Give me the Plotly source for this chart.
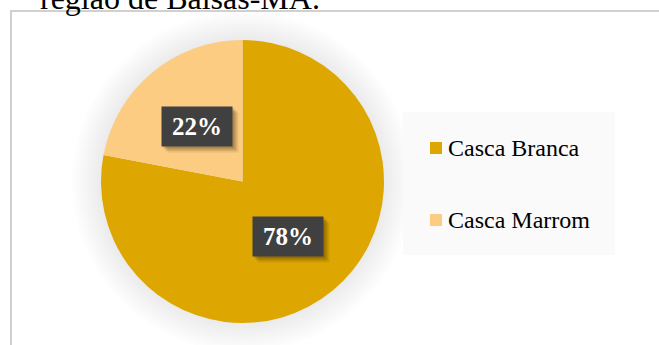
import math
import plotly.graph_objects as go

# Shell colour of the eggs sampled
categories = ["Casca Branca", "Casca Marrom"]
shares = [78, 22]
colors = ["#DDA600", "#FCCC82"]
title_text = "região de Balsas-MA."

W, H = 659, 345
cx, cy, R = 242.5, 181.5, 141.5  # pie centre and radius in pixels


def px(x):
    return x / W


def py(y):
    return 1 - y / H


fig = go.Figure()
fig.add_trace(go.Pie(
    labels=categories,
    values=shares,
    sort=False,
    direction="clockwise",
    rotation=0,
    marker=dict(colors=colors, line=dict(width=0)),
    textinfo="none",
    hoverinfo="label+percent",
    showlegend=False,
    domain=dict(x=[px(cx - R), px(cx + R)], y=[py(cy + R), py(cy - R)]),
))

shapes = []
# outer frame of the chart area
shapes.append(dict(type="rect", xref="paper", yref="paper",
                   x0=px(11), x1=px(700), y0=py(400), y1=py(11),
                   line=dict(color="#D0D0D0", width=2), fillcolor="rgba(0,0,0,0)",
                   layer="below"))
# soft glow around the pie
for k in range(2, 32, 3):
    r = R + k
    shapes.append(dict(type="circle", xref="paper", yref="paper",
                       x0=px(cx - r), x1=px(cx + r), y0=py(cy + r), y1=py(cy - r),
                       line=dict(width=0), fillcolor="rgba(0,0,0,0.007)", layer="below"))

# legend panel
lx0, lx1, ly0, ly1 = 403, 615, 112, 255
shapes.append(dict(type="rect", xref="paper", yref="paper",
                   x0=px(lx0), x1=px(lx1), y0=py(ly1), y1=py(ly0),
                   line=dict(width=0), fillcolor="#FAFAFA", layer="below"))

annotations = []
item_y = [148, 220]
for name, col, yy in zip(categories, colors, item_y):
    shapes.append(dict(type="rect", xref="paper", yref="paper",
                       x0=px(430), x1=px(442), y0=py(yy + 6), y1=py(yy - 6),
                       line=dict(width=0), fillcolor=col))
    annotations.append(dict(xref="paper", yref="paper", x=px(446), y=py(yy),
                            xanchor="left", yanchor="middle", showarrow=False,
                            text=name,
                            font=dict(family="Liberation Serif", size=24, color="#000000")))

# percentage labels placed at half radius along each slice's mid-angle
total = sum(shares)
cum = 0
for v in shares:
    a = math.radians((cum + v / 2) / total * 360)
    cum += v
    lx = cx + 0.5 * R * math.sin(a)
    ly = cy - 0.5 * R * math.cos(a)
    for dx, alpha in [(6, 0.10), (4, 0.18), (2, 0.2)]:
        annotations.append(dict(xref="paper", yref="paper", x=px(lx), y=py(ly),
                                xanchor="center", yanchor="middle",
                                xshift=dx, yshift=-dx, showarrow=False,
                                text=f"{v}%", width=70, height=39, borderpad=0,
                                bgcolor=f"rgba(60,40,0,{alpha})",
                                font=dict(family="Liberation Serif", size=25,
                                          color="rgba(0,0,0,0)")))
    annotations.append(dict(xref="paper", yref="paper", x=px(lx), y=py(ly),
                            xanchor="center", yanchor="middle",
                            showarrow=False, text=f"<b>{v}%</b>",
                            width=70, height=39, borderpad=0,
                            bgcolor="#404040",
                            font=dict(family="Liberation Serif", size=25, color="#FFFFFF")))

# caption line above the frame (partly cut by the page edge)
annotations.append(dict(xref="paper", yref="paper", x=px(38), y=py(18),
                        xanchor="left", yanchor="bottom", showarrow=False,
                        text=title_text,
                        font=dict(family="Liberation Serif", size=32, color="#000000")))

fig.update_layout(
    width=W, height=H,
    margin=dict(l=0, r=0, t=0, b=0),
    paper_bgcolor="#FFFFFF",
    plot_bgcolor="#FFFFFF",
    shapes=shapes,
    annotations=annotations,
)

fig.write_html("out.html")
